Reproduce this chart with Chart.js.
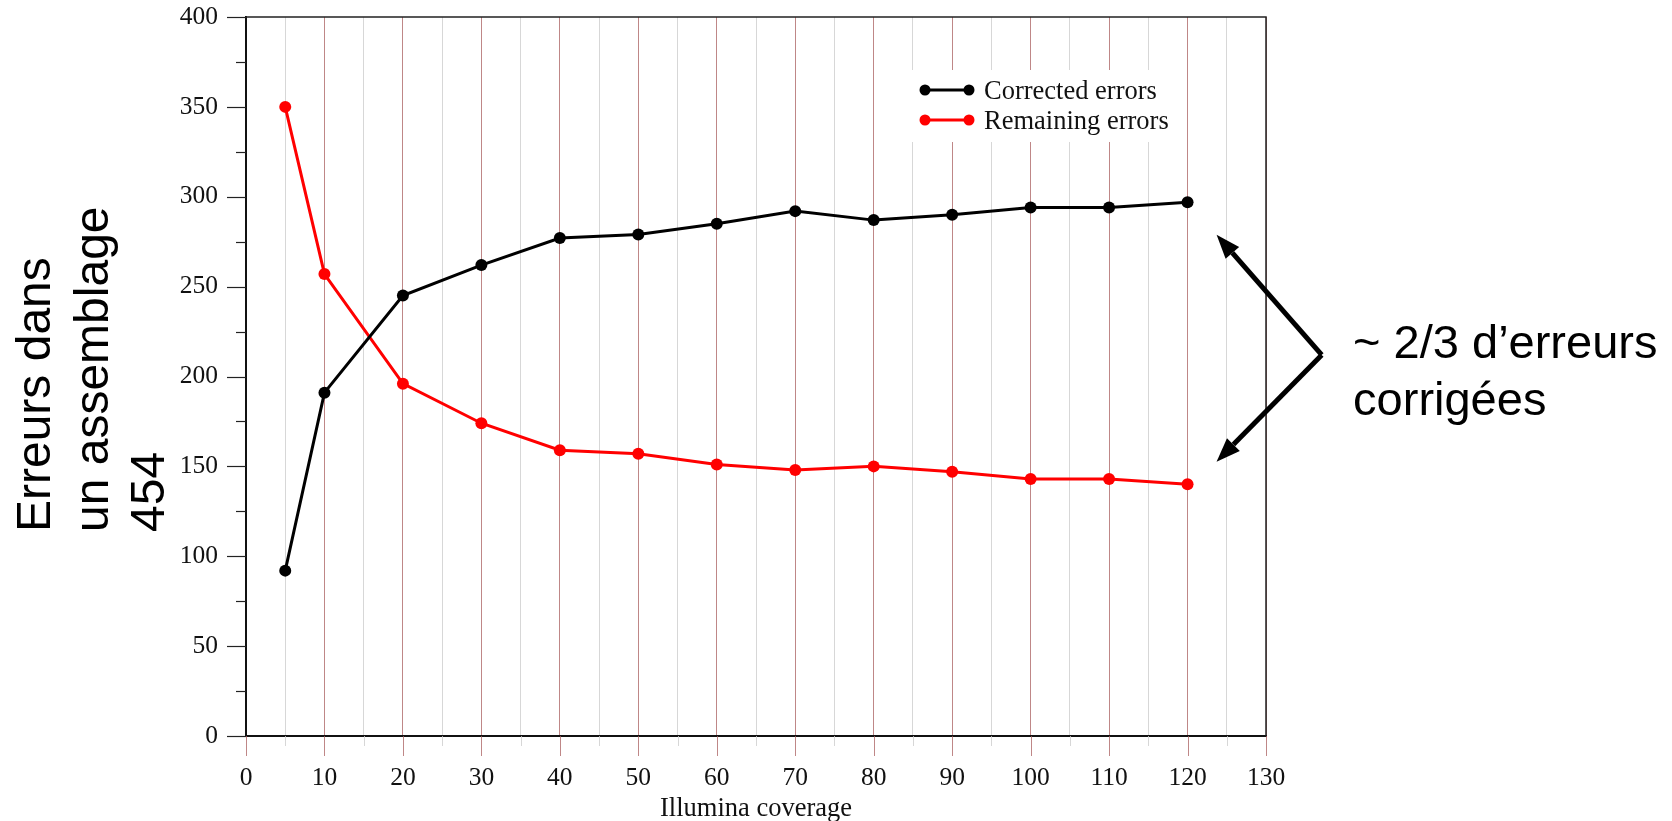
<!DOCTYPE html>
<html><head><meta charset="utf-8">
<script src="https://cdn.jsdelivr.net/npm/chart.js@4.4.1/dist/chart.umd.min.js"></script>
<style>html,body{margin:0;padding:0;background:#fff;}#wrap{width:1672px;height:821px;position:relative;overflow:hidden}</style>
</head><body><div id="wrap"><canvas id="c" width="1672" height="821"></canvas></div>
<script>
// ---- data ----
const coverage = [5, 10, 20, 30, 40, 50, 60, 70, 80, 90, 100, 110, 120];
const correctedErrors = [92, 191, 245, 262, 277, 279, 285, 292, 287, 290, 294, 294, 297];
const remainingErrors = [350, 257, 196, 174, 159, 157, 151, 148, 150, 147, 143, 143, 140];
const seriesLabels = ['Corrected errors', 'Remaining errors'];
const seriesColors = ['#000000', '#ff0000'];
const xTitle = 'Illumina coverage';
const yTitleLines = ['Erreurs dans', 'un assemblage', '454'];
const noteLines = ['~ 2/3 d\u2019erreurs', 'corrigées'];
const xRange = [0, 130];
const yRange = [0, 400];

const MAJOR_GRID = 'rgba(170,95,95,0.75)';
const MINOR_GRID = 'rgba(205,205,205,0.8)';
const SERIF = "'Liberation Serif', 'Times New Roman', serif";
const SANS = "'Liberation Sans', Arial, sans-serif";

const decor = {
  id: 'decor',
  beforeDatasetsDraw(chart) {
    const ctx = chart.ctx, ca = chart.chartArea;
    // legend box
    ctx.save();
    ctx.fillStyle = '#fff';
    ctx.fillRect(ca.left + 666, ca.top + 53, 250, 72);
    const rows = [ca.top + 73, ca.top + 103];
    chart.data.datasets.forEach((ds, i) => {
      const y = rows[i];
      const x0 = ca.left + 679, x1 = ca.left + 723;
      ctx.strokeStyle = ds.borderColor; ctx.lineWidth = 3;
      ctx.beginPath(); ctx.moveTo(x0, y); ctx.lineTo(x1, y); ctx.stroke();
      ctx.fillStyle = ds.borderColor;
      [x0, x1].forEach(x => { ctx.beginPath(); ctx.arc(x, y, 5.5, 0, Math.PI * 2); ctx.fill(); });
      ctx.fillStyle = '#111';
      ctx.font = '26.5px ' + SERIF;
      ctx.textBaseline = 'alphabetic'; ctx.textAlign = 'left';
      ctx.fillText(ds.label, ca.left + 738, y + 9);
    });
    ctx.restore();
  },
  afterDraw(chart) {
    const ctx = chart.ctx, ca = chart.chartArea;
    const xs = chart.scales.x, ys = chart.scales.y;
    ctx.save();
    // x tick marks below axis
    xs.ticks.forEach(t => {
      const px = Math.round(xs.getPixelForValue(t.value)) + 0.5;
      const major = t.value % 10 === 0;
      ctx.strokeStyle = major ? MAJOR_GRID : MINOR_GRID;
      ctx.lineWidth = 1;
      ctx.beginPath(); ctx.moveTo(px, ca.bottom); ctx.lineTo(px, ca.bottom + (major ? 20 : 10)); ctx.stroke();
    });
    // y tick marks left of axis
    ys.ticks.forEach(t => {
      const py = Math.round(ys.getPixelForValue(t.value)) + 0.5;
      const major = t.value % 50 === 0;
      ctx.strokeStyle = '#222'; ctx.lineWidth = 1.2;
      ctx.beginPath(); ctx.moveTo(ca.left - (major ? 19 : 10), py); ctx.lineTo(ca.left, py); ctx.stroke();
    });
    // frame
    ctx.strokeStyle = '#222'; ctx.lineWidth = 1.5;
    ctx.beginPath();
    ctx.moveTo(ca.left, ca.top); ctx.lineTo(ca.right, ca.top); ctx.lineTo(ca.right, ca.bottom);
    ctx.stroke();
    // y title (rotated, start-aligned)
    ctx.fillStyle = '#000';
    ctx.font = '48px ' + SANS;
    ctx.textAlign = 'left'; ctx.textBaseline = 'alphabetic';
    const baseX = [50, 108, 164];
    yTitleLines.forEach((line, i) => {
      ctx.save();
      ctx.translate(baseX[i], 532);
      ctx.rotate(-Math.PI / 2);
      ctx.fillText(line, 0, 0);
      ctx.restore();
    });
    // annotation arrows
    const vx = xs.getPixelForValue(137.1), vy = ys.getPixelForValue(212);
    const tips = [[xs.getPixelForValue(123.7), ys.getPixelForValue(278.8)],
                  [xs.getPixelForValue(123.7), ys.getPixelForValue(152.6)]];
    ctx.strokeStyle = '#000'; ctx.fillStyle = '#000'; ctx.lineWidth = 5;
    tips.forEach(([tx, ty]) => {
      const ang = Math.atan2(ty - vy, tx - vx);
      const hl = 24, hw = 9;
      const bx = tx - hl * Math.cos(ang), by = ty - hl * Math.sin(ang);
      ctx.beginPath(); ctx.moveTo(vx, vy); ctx.lineTo(bx, by); ctx.stroke();
      ctx.beginPath();
      ctx.moveTo(tx, ty);
      ctx.lineTo(bx + hw * Math.sin(ang), by - hw * Math.cos(ang));
      ctx.lineTo(bx - hw * Math.sin(ang), by + hw * Math.cos(ang));
      ctx.closePath(); ctx.fill();
    });
    ctx.font = '47px ' + SANS;
    const tx0 = xs.getPixelForValue(141.1);
    noteLines.forEach((line, i) => ctx.fillText(line, tx0, 358 + i * 57));
    ctx.restore();
  }
};

new Chart(document.getElementById('c'), {
  type: 'line',
  data: {
    datasets: [
      { label: seriesLabels[0], data: coverage.map((x, i) => ({ x, y: correctedErrors[i] })) },
      { label: seriesLabels[1], data: coverage.map((x, i) => ({ x, y: remainingErrors[i] })) }
    ].map((d, i) => Object.assign(d, {
      borderColor: seriesColors[i], backgroundColor: seriesColors[i],
      pointBackgroundColor: seriesColors[i], pointBorderColor: seriesColors[i],
      borderWidth: 3, pointRadius: 6, pointBorderWidth: 0, tension: 0, fill: false
    }))
  },
  options: {
    responsive: false, animation: false, devicePixelRatio: 1,
    layout: { padding: { left: 0, right: 406, top: 17, bottom: 0 } },
    plugins: { legend: { display: false }, tooltip: { enabled: false } },
    scales: {
      x: {
        type: 'linear', min: xRange[0], max: xRange[1],
        afterFit: s => { s.height = 85; },
        ticks: {
          stepSize: 5, autoSkip: false, maxRotation: 0, padding: 27,
          color: '#111', font: { family: SERIF, size: 25.5 },
          callback: v => (v % 10 === 0 ? String(v) : '')
        },
        grid: {
          drawTicks: false, lineWidth: 1,
          color: c => (c.tick && c.tick.value % 10 === 0 ? MAJOR_GRID : MINOR_GRID)
        },
        border: { color: '#111', width: 2 },
        title: { display: true, text: xTitle, color: '#111', font: { family: SERIF, size: 26.5 }, padding: { top: 0, bottom: -4 } }
      },
      y: {
        type: 'linear', min: yRange[0], max: yRange[1],
        afterFit: s => { s.width = 246; },
        ticks: {
          stepSize: 25, autoSkip: false, padding: 0,
          color: '#111', font: { family: SERIF, size: 25.5 },
          callback: v => (v % 50 === 0 ? String(v) : '')
        },
        grid: { drawTicks: true, tickLength: 28, tickColor: 'rgba(0,0,0,0)', drawOnChartArea: false },
        border: { color: '#111', width: 2 }
      }
    }
  },
  plugins: [decor]
});
</script>
</body></html>
